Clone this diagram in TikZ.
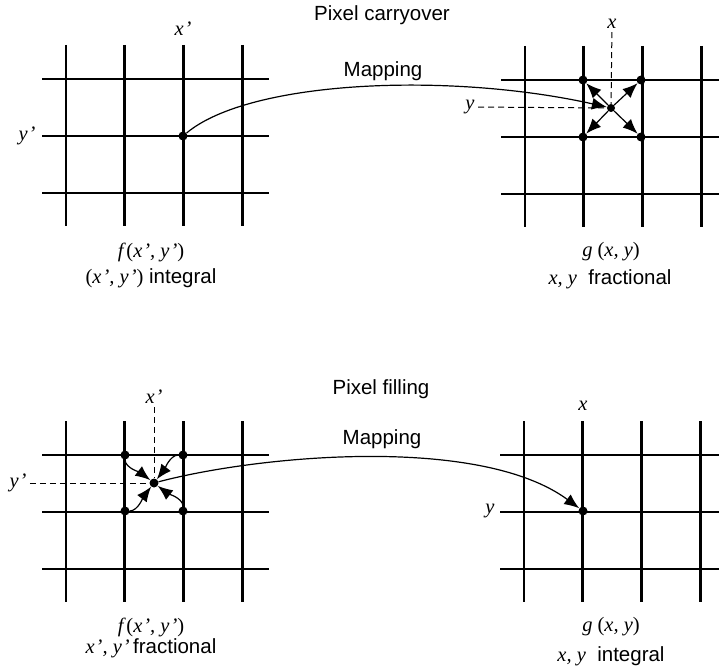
\documentclass[tikz,border=0pt]{standalone}
\usepackage{fontspec}
\setmainfont{Liberation Serif}
\setsansfont{Liberation Sans}
\usetikzlibrary{arrows.meta}

\begin{document}
\begin{tikzpicture}[x=1pt, y=-1pt,
  gridline/.style={line width=2.8pt},
  dot/.style={circle, fill, inner sep=0pt, minimum size=9pt},
  guide/.style={line width=1pt, dash pattern=on 6pt off 4pt},
  map/.style={line width=1.2pt, -{Latex[length=15pt,width=12pt]}},
  word/.style={font=\fontsize{20.5}{24}\selectfont\sffamily},
  var/.style={font=\fontsize{20.5}{24}\selectfont}]
  \useasboundingbox (0,0) rectangle (719,669);
  % the four pixel grids
  \foreach \ox/\oy/\xr in {66/79/269, 525/80/719, 66/455/269, 524/455/719} {
    \foreach \i in {0,...,3}
      \draw[gridline] (\ox+\i*58.7,\oy-34) -- (\ox+\i*58.7,\oy+147);
    \foreach \j in {0,1,2}
      \draw[gridline] (\ox-24,\oy+\j*57) -- (\xr,\oy+\j*57);
  }

  % pixel carryover
  \node[word] (t1) at (382,15) {Pixel carryover};
  \node[word] (m1) at (383,71) {Mapping};
  \node[var] (xa) at (183,29) {\textit{x\kern1pt'}};
  \node[var] (ya) at (27,136) {\textit{y\kern1pt'}};
  \node[var] (fa) at (151,252) {\textit{f\kern3pt}(\textit{x\kern1pt', y\kern1pt'})};
  \node[word] (ia) at (151,278) {{\rmfamily(\textit{x\kern1pt', y\kern1pt'})} integral};
  \node[var] (xb) at (612,24) {\textit{x}};
  \node[var] (yb) at (470,107) {\textit{y}};
  \node[var] (gb) at (611,252) {\textit{g} (\textit{x, y})};
  \node[word] (ib) at (610,279) {{\rmfamily\itshape x, y}\ \ fractional};

  \node[dot] (s1) at (183,136) {};
  \node[dot, minimum size=8pt] (c1) at (611,108) {};
  \node[dot] (k1) at (583,80) {};
  \node[dot] (k2) at (641,80) {};
  \node[dot] (k3) at (583,137) {};
  \node[dot] (k4) at (641,137) {};

  \draw[guide] (xb) -- (c1);
  \draw[guide] (yb) -- (c1);
  \foreach \k in {1,...,4}
    \draw[map] (c1) -- (k\k);
  \draw[map] (s1) .. controls (250,80) and (450,72) .. (c1);

  % pixel filling
  \node[word] (t2) at (381,389) {Pixel filling};
  \node[word] (m2) at (382,439) {Mapping};
  \node[var] (xc) at (154,397) {\textit{x\kern1pt'}};
  \node[var] (yc) at (18,483) {\textit{y\kern1pt'}};
  \node[var] (fc) at (151,627) {\textit{f\kern3pt}(\textit{x\kern1pt', y\kern1pt'})};
  \node[word] (ic) at (151,648) {{\rmfamily\itshape x\kern1pt', y\kern1pt'}\,fractional};
  \node[var] (xd) at (583,406) {\textit{x}};
  \node[var] (yd) at (490,511) {\textit{y}};
  \node[var] (gd) at (611,627) {\textit{g} (\textit{x, y})};
  \node[word] (id) at (611,656) {{\rmfamily\itshape x, y}\ \ integral};

  \node[dot] (c2) at (154,483) {};
  \node[dot] (n1) at (125,455) {};
  \node[dot] (n2) at (183,455) {};
  \node[dot] (n3) at (125,511) {};
  \node[dot] (n4) at (183,511) {};
  \node[dot] (s2) at (583,511) {};

  \draw[guide] (xc) -- (c2);
  \draw[guide] (yc) -- (c2);
  \draw[map] (n1) .. controls +(0,13) and +(-13,-10) .. (c2);
  \draw[map] (n2) .. controls +(-13,0) and +(10,-13) .. (c2);
  \draw[map] (n4) .. controls +(0,-13) and +(13,10) .. (c2);
  \draw[map] (n3) .. controls +(13,0) and +(-10,13) .. (c2);
  \draw[map] (c2) .. controls (260,455) and (480,435) .. (s2);
\end{tikzpicture}
\end{document}
